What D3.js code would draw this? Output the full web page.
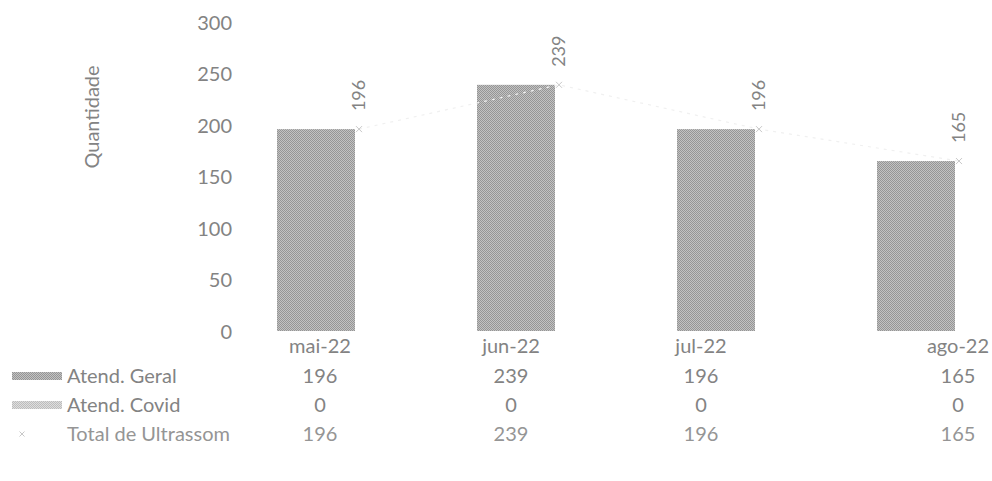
<!DOCTYPE html>
<html><head><meta charset="utf-8">
<script src="https://cdn.jsdelivr.net/npm/d3@7"></script>
<style>body{margin:0;background:#fff}svg{display:block}text{font-family:Lato,"Open Sans",sans-serif}</style>
</head><body><svg id="c" width="992" height="481"></svg>
<script>
const categories = ["mai-22","jun-22","jul-22","ago-22"];
const geral = [196,239,196,165];
const covid = [0,0,0,0];
const total = [196,239,196,165];
const yTicks = [0,50,100,150,200,250,300];
const seriesNames = ["Atend. Geral","Atend. Covid","Total de Ultrassom"];

const svg = d3.select("#c");
const txt = "#838383";
const FS = "20px";
const defs = svg.append("defs");
function dither(id, a, b){
  const p = defs.append("pattern").attr("id",id).attr("width",2).attr("height",2).attr("patternUnits","userSpaceOnUse");
  p.append("rect").attr("width",2).attr("height",2).attr("fill",b);
  p.append("rect").attr("width",1).attr("height",1).attr("fill",a);
  p.append("rect").attr("x",1).attr("y",1).attr("width",1).attr("height",1).attr("fill",a);
}
dither("dg","#959595","#c2c2c2");
dither("dc","#bdbdbd","#dedede");

const x = d3.scaleBand().domain(categories).range([259,1059]).paddingInner(0);
const y = d3.scaleLinear().domain([0,300]).range([331,22]);
const tableX = d3.scaleOrdinal().domain(categories).range([320,511,701,958]);
const barW = 78;

const g = svg.append("g");
const yAxis = d3.axisLeft(y).tickValues(yTicks).tickSize(0).tickPadding(0);
const ya = g.append("g").attr("transform","translate(232,0)").call(yAxis);
ya.select(".domain").remove();
ya.selectAll("text").attr("fill",txt).style("font-size",FS).style("font-family","Lato,sans-serif").attr("dy","0.35em");

svg.append("text").attr("transform","translate(99,117) rotate(-90)").attr("text-anchor","middle")
  .attr("fill",txt).style("font-size",FS).text("Quantidade");

const cx = d => x(d) + x.bandwidth()/2;
g.selectAll("rect.geral").data(categories).join("rect").attr("class","geral")
  .attr("x",d=>cx(d)-barW-4).attr("width",barW)
  .attr("y",(d,i)=>y(geral[i])).attr("height",(d,i)=>y(0)-y(geral[i])).attr("fill","url(#dg)");
g.selectAll("rect.covid").data(categories).join("rect").attr("class","covid")
  .attr("x",d=>cx(d)+4).attr("width",barW)
  .attr("y",(d,i)=>y(covid[i])).attr("height",(d,i)=>y(0)-y(covid[i])).attr("fill","url(#dc)");

const line = d3.line().x((d,i)=>cx(categories[i])).y(d=>y(d));
g.append("path").datum(total).attr("d",line).attr("fill","none").attr("stroke","#f0f0f0").attr("stroke-width",1.2).attr("stroke-dasharray","3,5");
const mk = g.selectAll("g.mk").data(total).join("g").attr("class","mk")
  .attr("transform",(d,i)=>`translate(${cx(categories[i])},${y(d)})`);
mk.append("path").attr("d","M-3,-3L3,3M-3,3L3,-3").attr("stroke","#c8c8c8").attr("stroke-width",1);
mk.append("text").attr("transform","translate(6,-18) rotate(-90)").attr("text-anchor","start")
  .attr("fill",txt).style("font-size","18px").text(d=>d);

const rowsY = [346,376,405,434];
const tableRows = [geral,covid,total];
g.selectAll("text.cat").data(categories).join("text").attr("class","cat")
  .attr("x",d=>tableX(d)).attr("y",rowsY[0]).attr("dy","0.35em").attr("text-anchor","middle")
  .attr("fill",txt).style("font-size",FS).text(d=>d);
tableRows.forEach((row,r)=>{
  g.selectAll("text.r"+r).data(row).join("text").attr("class","r"+r)
    .attr("x",(d,i)=>tableX(categories[i])).attr("y",rowsY[r+1]).attr("dy","0.35em").attr("text-anchor","middle")
    .attr("fill",r===2?"#959595":txt).style("font-size",FS).text(d=>d);
});
const lg = svg.append("g");
seriesNames.forEach((n,r)=>{
  const yy = rowsY[r+1];
  if(r<2){
    lg.append("rect").attr("x",12).attr("y",yy-4).attr("width",50).attr("height",8).attr("fill",r===0?"url(#dg)":"url(#dc)");
  } else {
    lg.append("path").attr("d",`M${22-2.5},${yy-2.5}L${22+2.5},${yy+2.5}M${22-2.5},${yy+2.5}L${22+2.5},${yy-2.5}`).attr("stroke","#c8c8c8");
  }
  lg.append("text").attr("x",67).attr("y",yy).attr("dy","0.35em").attr("fill",r===2?"#959595":txt).style("font-size",FS).text(n);
});
</script></body></html>
